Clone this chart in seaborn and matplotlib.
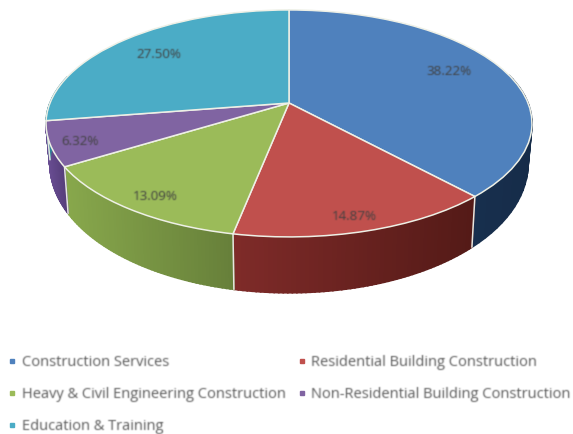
import numpy as np
import matplotlib
matplotlib.use("Agg")
import matplotlib.pyplot as plt
import seaborn as sns
from matplotlib.lines import Line2D
from matplotlib.transforms import Transform

categories = ["Construction Services", "Residential Building Construction",
              "Heavy & Civil Engineering Construction", "Non-Residential Building Construction",
              "Education & Training"]
shares = [38.22, 14.87, 13.09, 6.32, 27.50]

top_colors = sns.color_palette(["#4f81bd", "#c0504d", "#9bbb59", "#8064a2", "#4bacc6"])
side_left = ["#1d3a5e", "#7f2b29", "#88a84c", "#6a4e94", "#2f8197"]
side_right = ["#162c49", "#541a17", "#67803a", "#573f7c", "#2f8197"]

# perspective of the tilted disc, output in pixels
CX, CY, W, H, K = 289.0, 103.0, 239.0, 109.8, 0.18
DEPTH_BASE, DEPTH_FRONT, SHRINK = 36.0, 22.0, 0.984
label_r = [0.80, 0.90, 0.885, 0.91, 0.764]
label_nudge = [(-9, -1), (-3, 1), (5, 2), (7, 2), (-3, 2)]


def project(x, y, t=0.0):
    x, y = np.asarray(x, float), np.asarray(y, float)
    d = 1 + K * y
    s = 1 - (1 - SHRINK) * t
    return CX + s * W * x / d, CY - s * H * y / d + (DEPTH_BASE - DEPTH_FRONT * y) * t


class Tilt(Transform):
    input_dims = output_dims = 2

    def transform_non_affine(self, values):
        px, py = project(values[:, 0], values[:, 1])
        return np.column_stack([px, py])


def soften(img, dpi, pad=3):
    # small blur, the reference is an upscaled low-res image
    img = np.pad(img, ((pad, pad), (pad, pad), (0, 0)))
    a = img[..., 3:]
    pm = np.dstack([img[..., :3] * a, a])
    kernel = np.array([0.2, 0.6, 0.2])
    for axis in (0, 1):
        pm = np.apply_along_axis(lambda v: np.convolve(v, kernel, mode="same"), axis, pm)
    out = pm.copy()
    out[..., :3] = pm[..., :3] / np.maximum(pm[..., 3:], 1e-4)
    return np.clip(out, 0, 1), -pad, -pad


sns.set_theme(style="white")
plt.rcParams["font.family"] = ["Open Sans", "DejaVu Sans"]

fig = plt.figure(figsize=(5.73, 4.34), dpi=100)
ax = fig.add_axes([0, 0, 1, 1])

wedges, _, pct_texts = ax.pie(shares, colors=top_colors, startangle=90, counterclock=False,
                              autopct="%.2f%%", radius=1, normalize=True,
                              wedgeprops={"edgecolor": "#eef0e6", "linewidth": 1.1},
                              textprops={"fontsize": 9.6, "color": "#404040"})
ax.set_aspect("auto")
ax.set_xlim(0, 573)
ax.set_ylim(434, 0)
ax.axis("off")

tilt = Tilt()
for w in wedges:
    w.set_transform(tilt + ax.transData)
    w.set_zorder(3)

# side wall, cut in thin strips so each slice gets its left-to-right shading
for i, w in enumerate(wedges):
    th = np.radians(np.linspace(w.theta1, w.theta2, 60))
    xs, ys = np.cos(th), np.sin(th)
    x_top, y_top = project(xs, ys, 0)
    x_bot, y_bot = project(xs, ys, 1)
    c0 = np.array(matplotlib.colors.to_rgb(side_left[i]))
    c1 = np.array(matplotlib.colors.to_rgb(side_right[i]))
    left, right = x_bot.min(), x_bot.max()
    for j in range(len(th) - 1):
        if ys[j] > 0.25 and ys[j + 1] > 0.25:
            continue
        f = ((x_bot[j] + x_bot[j + 1]) / 2 - left) / max(right - left, 1)
        col = c0 + (c1 - c0) * f
        ax.fill([x_top[j], x_top[j + 1], x_bot[j + 1], x_bot[j]],
                [y_top[j], y_top[j + 1], y_bot[j + 1], y_bot[j]],
                color=col, lw=1.2, zorder=1)

    # seam at the slice edge, only on the front
    if np.sin(np.radians(w.theta1)) < 0:
        tx, ty = np.cos(np.radians(w.theta1)), np.sin(np.radians(w.theta1))
        a, b = project(tx, ty, 0), project(tx, ty, 1)
        ax.plot([a[0], b[0]], [a[1], b[1]], color="#e6e6e0", lw=1.1, zorder=2)

for w, txt, r, nudge in zip(wedges, pct_texts, label_r, label_nudge):
    mid = np.radians((w.theta1 + w.theta2) / 2)
    px, py = project(r * np.cos(mid), r * np.sin(mid))
    txt.set_position((px + nudge[0], py + nudge[1]))
    txt.set_zorder(4)
    txt.set_agg_filter(soften)

handles = [Line2D([], [], ls="none", marker="s", ms=3.2, color=c) for c in top_colors]
# legend fills by column, the reference reads by row
order = [0, 2, 4, 1, 3]
leg = ax.legend([handles[i] for i in order], [categories[i] for i in order],
                ncol=2, frameon=False, loc="upper left", bbox_to_anchor=(0.014, 0.182),
                fontsize=10.5, labelcolor="#595959", handlelength=0.6, handletextpad=0.35,
                columnspacing=0.8, labelspacing=1.17, borderaxespad=0, borderpad=0)
for t in leg.get_texts():
    t.set_agg_filter(soften)

fig.savefig("out.png", dpi=100)
